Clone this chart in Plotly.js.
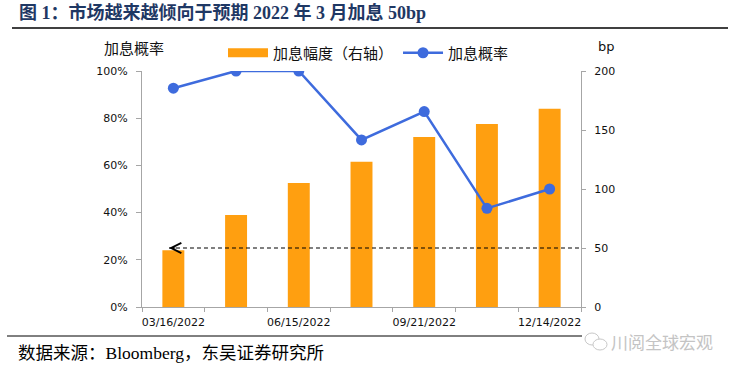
<!DOCTYPE html>
<html><head><meta charset="utf-8">
<script src="https://cdn.plot.ly/plotly-3.0.1.min.js"></script>
<style>html,body{margin:0;padding:0;background:#fff;} #chart{width:738px;height:375px;}</style>
</head><body><div id="chart"></div>
<script>
// ---- data ----
const categories = ['03/16/2022','05/04/2022','06/15/2022','07/27/2022','09/21/2022','11/02/2022','12/14/2022'];
const tickLabels = ['03/16/2022','','06/15/2022','','09/21/2022','','12/14/2022'];
const hikeSize = [48, 78, 105, 123, 144, 155, 168];          // bp (right axis)
const hikeProb = [0.927, 1.0, 1.0, 0.708, 0.828, 0.418, 0.50]; // probability (left axis)
const threshold = 50;                                         // bp reference line
const seriesNames = ['加息幅度（右轴）', '加息概率'];
const titleText = '图 1：市场越来越倾向于预期 2022 年 3 月加息 50bp';
const sourceText = '数据来源：Bloomberg，东吴证券研究所';
const leftAxisTitle = '加息概率';
const rightAxisTitle = 'bp';
const watermark = '川阅全球宏观';

// ---- geometry helpers ----
const W = 738, H = 375, L = 142, R = 581, T = 71, B = 307;
const px = x => (x - L) / (R - L);
const py = y => (B - y) / (B - T);

const ORANGE = '#FF9F10', BLUE = '#3E6BDD', AXIS = '#A6A6A6';
const tickFont = {family: 'DejaVu Sans, Verdana, sans-serif', size: 11, color: '#111'};
const cjk = 'Noto Sans CJK SC, sans-serif';

const traces = [
  {type: 'bar', x: categories, y: hikeSize, yaxis: 'y', name: seriesNames[0],
   marker: {color: ORANGE}, width: 0.35, showlegend: false, legendgroup: 'bar', hoverinfo: 'y'},
  {type: 'scatter', mode: 'lines', x: [categories[0]], y: [null], yaxis: 'y', name: seriesNames[0],
   line: {color: ORANGE, width: 9}, legendgroup: 'bar', hoverinfo: 'skip'},
  {type: 'scatter', mode: 'lines+markers', x: categories, y: hikeProb, yaxis: 'y2', name: seriesNames[1],
   line: {color: BLUE, width: 2.5}, marker: {color: BLUE, size: 11}}
];

const layout = {
  width: W, height: H,
  margin: {l: L, r: W - R, t: T, b: H - B, pad: 0},
  paper_bgcolor: '#fff', plot_bgcolor: '#fff',
  showlegend: true,
  legend: {orientation: 'h', xref: 'container', yref: 'container', x: 223 / W, y: 1 - 53 / H,
           xanchor: 'left', yanchor: 'middle', font: {family: cjk, size: 15, color: '#111'},
           itemwidth: 40, tracegroupgap: 0, bgcolor: 'rgba(0,0,0,0)'},
  xaxis: {type: 'category', range: [-0.5, 6.5], tickvals: categories, ticktext: tickLabels,
          tickson: 'boundaries', ticks: 'outside', ticklen: 4, tickcolor: AXIS,
          showline: true, linecolor: AXIS, linewidth: 1, showgrid: false, zeroline: false,
          tickfont: tickFont, tickangle: 0, ticklabelstandoff: 5},
  yaxis: {range: [0, 200], dtick: 50, side: 'right', ticks: 'outside', ticklen: 4,
          tickcolor: AXIS, showline: true, linecolor: AXIS, linewidth: 1, showgrid: false, zeroline: false,
          tickfont: tickFont, ticklabelstandoff: 6},
  yaxis2: {range: [0, 1], dtick: 0.2, tickformat: '.0%', overlaying: 'y', side: 'left',
           ticks: 'outside', ticklen: 5, tickcolor: AXIS,
           showline: true, linecolor: AXIS, linewidth: 1, showgrid: false, zeroline: false,
           tickfont: tickFont, ticklabelstandoff: 6},
  title: {text: '<b>' + titleText + '</b>', xref: 'container', yref: 'container',
          x: 19 / W, y: 1 - 13 / H, xanchor: 'left', yanchor: 'middle',
          font: {family: 'Liberation Serif, Noto Sans CJK SC, serif', size: 18, color: '#1F3864'}},
  shapes: [
    {type: 'line', xref: 'paper', yref: 'paper', x0: px(12), x1: px(728), y0: py(28), y1: py(28),
     line: {color: '#000', width: 1.5}},
    {type: 'line', xref: 'paper', yref: 'paper', x0: px(7), x1: px(582), y0: py(336), y1: py(336),
     line: {color: '#000', width: 1}},
    {type: 'line', xref: 'x', yref: 'y', x0: -0.07, x1: 6.5, y0: threshold, y1: threshold,
     line: {color: '#000', width: 1.2, dash: '4px,3px'}},
    {type: 'circle', xref: 'paper', yref: 'paper', x0: px(585), x1: px(599), y0: py(345), y1: py(333),
     line: {color: '#c8c8c8', width: 1}},
    {type: 'circle', xref: 'paper', yref: 'paper', x0: px(593), x1: px(607), y0: py(350), y1: py(339),
     line: {color: '#c8c8c8', width: 1}, fillcolor: '#fff'}
  ],
  annotations: [
    {text: '', xref: 'x', yref: 'y', x: -0.07, y: threshold, ax: 8, ay: 0, showarrow: true,
     arrowhead: 5, arrowsize: 2, arrowwidth: 1, arrowcolor: '#000'},
    {text: leftAxisTitle, xref: 'paper', yref: 'paper', x: px(102), y: py(47), xanchor: 'left', yanchor: 'middle',
     showarrow: false, font: {family: cjk, size: 15, color: '#111'}},
    {text: rightAxisTitle, xref: 'paper', yref: 'paper', x: px(596), y: py(46), xanchor: 'left', yanchor: 'middle',
     showarrow: false, font: {family: 'DejaVu Sans, sans-serif', size: 13, color: '#111'}},
    {text: sourceText, xref: 'paper', yref: 'paper', x: px(16), y: py(353), xanchor: 'left', yanchor: 'middle',
     showarrow: false, font: {family: 'Liberation Serif, Noto Sans CJK SC, serif', size: 17.5, color: '#000'}},
    {text: watermark, xref: 'paper', yref: 'paper', x: px(609), y: py(341), xanchor: 'left', yanchor: 'middle',
     showarrow: false, font: {family: cjk, size: 17, color: '#c4c4c4'}}
  ]
};

Plotly.newPlot('chart', traces, layout, {displayModeBar: false, responsive: false});
</script>
</body></html>
